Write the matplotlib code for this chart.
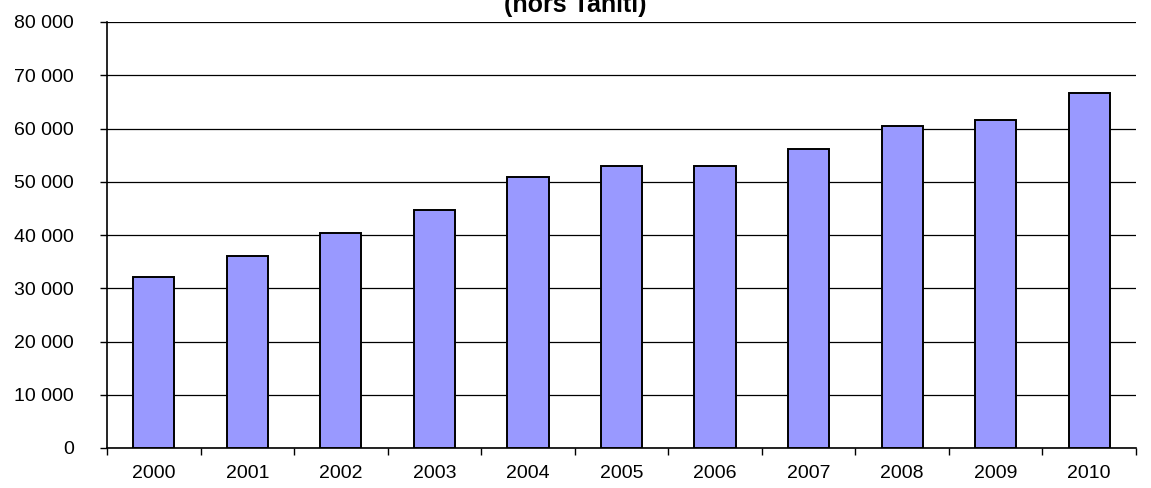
import matplotlib
matplotlib.use("Agg")
import matplotlib.pyplot as plt
import numpy as np
from matplotlib.ticker import FuncFormatter

years = ["2000", "2001", "2002", "2003", "2004", "2005",
         "2006", "2007", "2008", "2009", "2010"]
values = [32100, 36100, 40300, 44700, 50900, 53000,
          53000, 56200, 60500, 61600, 66700]

plt.rcParams["font.family"] = ["Liberation Sans", "DejaVu Sans"]

fig = plt.figure(figsize=(11.51, 4.88), dpi=100)
ax = fig.add_axes([107 / 1151, 40 / 488, (1136 - 107) / 1151, 426 / 488])

x = np.arange(len(years))
ax.bar(x, values, width=0.44, color="#9999ff", edgecolor="black",
       linewidth=1.4, zorder=3)

ax.set_xlim(-0.5, len(years) - 0.5)
ax.set_ylim(0, 80000)
ax.set_yticks(np.arange(0, 80001, 10000))
ax.yaxis.set_major_formatter(FuncFormatter(lambda v, p: f"{int(v):,}".replace(",", " ")))
ax.grid(axis="y", color="black", linewidth=0.9, zorder=0)

ax.set_xticks(x)
ax.set_xticklabels(years)
ax.set_xticks(np.arange(-0.5, len(years), 1.0), minor=True)
ax.tick_params(axis="x", which="major", length=0, pad=12, labelsize=14)
ax.tick_params(axis="x", which="minor", length=5, width=1, direction="out")
ax.tick_params(axis="y", length=5, width=1, direction="out", pad=19, labelsize=14)

for s in ("top", "right"):
    ax.spines[s].set_visible(False)
for s in ("left", "bottom"):
    ax.spines[s].set_linewidth(1.2)

fig.text(0.5, 1 - 12 / 488, "(hors Tahiti)", ha="center", va="baseline",
         fontsize=18, fontweight="bold")

fig.savefig("out.png", dpi=100)
